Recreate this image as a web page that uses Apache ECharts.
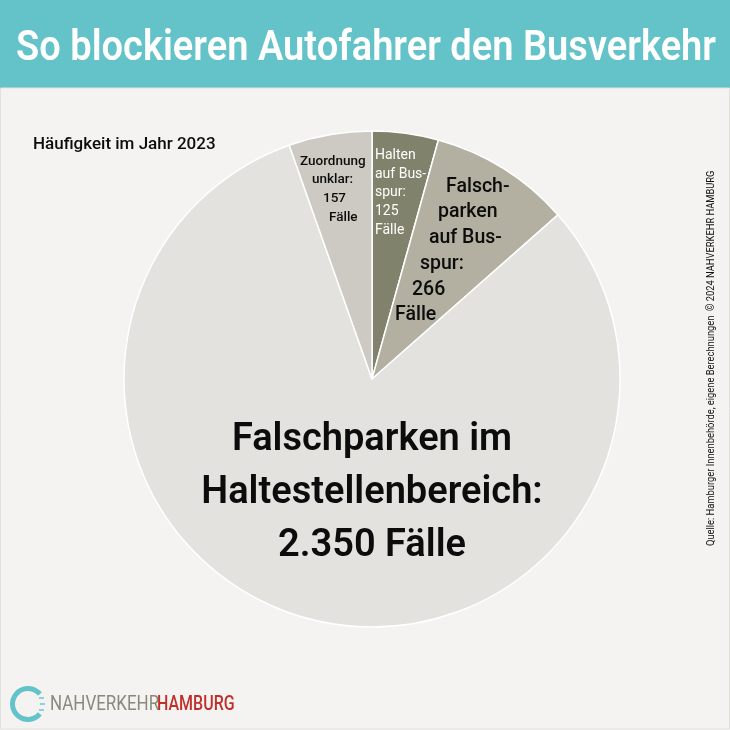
<!DOCTYPE html>
<html style="height: 100%">

<head>
    <meta charset="utf-8">
</head>

<body style="height: 100%; margin: 0">
    <div id="pie" style="width: 730px; height: 730px"></div>

    <script type="text/javascript" src="https://cdn.jsdelivr.net/npm/echarts@6/dist/echarts.min.js"></script>

    <script type="text/javascript">
        // data, clockwise from 12 o'clock
        var names = ['Halten auf Busspur', 'Falschparken auf Busspur', 'Falschparken im Haltestellenbereich', 'Zuordnung unklar'];
        var values = [125, 266, 2350, 157];
        var labelLines = [
            ['Halten', 'auf Bus-', 'spur:', '125', 'Fälle'],
            ['Falsch-', 'parken', 'auf Bus-', 'spur:', '266', 'Fälle'],
            ['Falschparken im', 'Haltestellenbereich:', '2.350 Fälle'],
            ['Zuordnung', 'unklar:', '157', 'Fälle']
        ];
        var titleText = 'So blockieren Autofahrer den Busverkehr';
        var subText = 'Häufigkeit im Jahr 2023';
        var sourceText = 'Quelle: Hamburger Innenbehörde, eigene Berechnungen  © 2024 NAHVERKEHR HAMBURG';

        var font = 'Roboto';
        var colors = ['#80826b', '#b3afa1', '#e3e2de', '#cccac2'];
        // label block placement: x, y, per line indent, font size, line height, weight, colour, align
        var labelStyles = [
            { x: 375, y: 146, indent: [0, 0, 0, 0, 0], size: 14, lh: 18.7, weight: 400, color: '#ffffff', align: 'left' },
            { x: 395, y: 174, indent: [51, 43, 34, 25, 17, 0], size: 19.5, lh: 25.7, weight: 500, color: '#0c0c0c', align: 'left' },
            { x: 372, y: 414, indent: [0, 0, 0], size: 38, lh: 53, weight: 600, color: '#0c0c0c', align: 'center' },
            { x: 300, y: 152, indent: [0, 12, 23, 29], size: 13.5, lh: 18.7, weight: 500, color: '#0c0c0c', align: 'left' }
        ];

        var dom = document.getElementById('pie');
        var myChart = echarts.init(dom);

        var pieData = names.map(function (name, i) {
            var st = labelStyles[i];
            var rich = {};
            var lines = labelLines[i].map(function (line, k) {
                rich['l' + k] = {
                    fontFamily: font,
                    fontSize: st.size,
                    fontWeight: st.weight,
                    color: st.color,
                    lineHeight: st.lh,
                    padding: [0, 0, 0, st.indent[k]]
                };
                return '{l' + k + '|' + line + '}';
            });
            return {
                name: name,
                value: values[i],
                itemStyle: { color: colors[i] },
                label: { formatter: lines.join('\n'), rich: rich, align: st.align }
            };
        });

        var option = {
            backgroundColor: '#f4f3f1',
            animation: false,
            graphic: [
                { type: 'rect', shape: { x: 0, y: 0, width: 730, height: 88 }, style: { fill: '#64c2c9' } },
                { type: 'rect', shape: { x: 0.5, y: 88, width: 729, height: 641 }, style: { fill: 'none', stroke: '#e2e1de', lineWidth: 1 } },
                { type: 'text', x: 16, y: 28, scaleX: 0.885, style: { text: titleText, fontFamily: font, fontSize: 43, fontWeight: 600, fill: '#ffffff' } },
                { type: 'text', x: 33, y: 136, style: { text: subText, fontFamily: font, fontSize: 17, fontWeight: 500, fill: '#0c0c0c' } },
                { type: 'text', x: 706, y: 546, rotation: Math.PI / 2, scaleX: 0.89, style: { text: sourceText, fontFamily: '"Liberation Sans Narrow", Roboto', fontSize: 10.5, fill: '#111111' } },
                // logo
                { type: 'arc', shape: { cx: 28, cy: 704, r: 15.5, startAngle: 0.7, endAngle: -0.7, clockwise: true }, style: { fill: 'none', stroke: '#64c2c9', lineWidth: 5 } },
                { type: 'rect', shape: { x: 39, y: 697, width: 5, height: 2 }, style: { fill: '#8fd3d8' } },
                { type: 'rect', shape: { x: 40, y: 703, width: 5, height: 2 }, style: { fill: '#8fd3d8' } },
                { type: 'rect', shape: { x: 39, y: 709, width: 5, height: 2 }, style: { fill: '#8fd3d8' } },
                { type: 'text', x: 50, y: 695, scaleX: 0.87, style: { text: 'NAHVERKEHR', fontFamily: font, fontSize: 19.5, fontWeight: 400, fill: '#8a8a7c' } },
                { type: 'text', x: 157, y: 695, scaleX: 0.82, style: { text: 'HAMBURG', fontFamily: font, fontSize: 19.5, fontWeight: 500, fill: '#c0302a' } }
            ],
            series: [
                {
                    type: 'pie',
                    center: [372, 379],
                    radius: [0, 248],
                    startAngle: 90,
                    avoidLabelOverlap: false,
                    silent: true,
                    itemStyle: { borderColor: '#ffffff', borderWidth: 1.5 },
                    label: { show: true, position: 'inside', verticalAlign: 'top' },
                    labelLine: { show: false },
                    labelLayout: function (params) {
                        var st = labelStyles[params.dataIndex];
                        return { x: st.x, y: st.y, align: st.align, verticalAlign: 'top' };
                    },
                    data: pieData
                }
            ]
        };

        myChart.setOption(option);
    </script>
</body>

</html>
